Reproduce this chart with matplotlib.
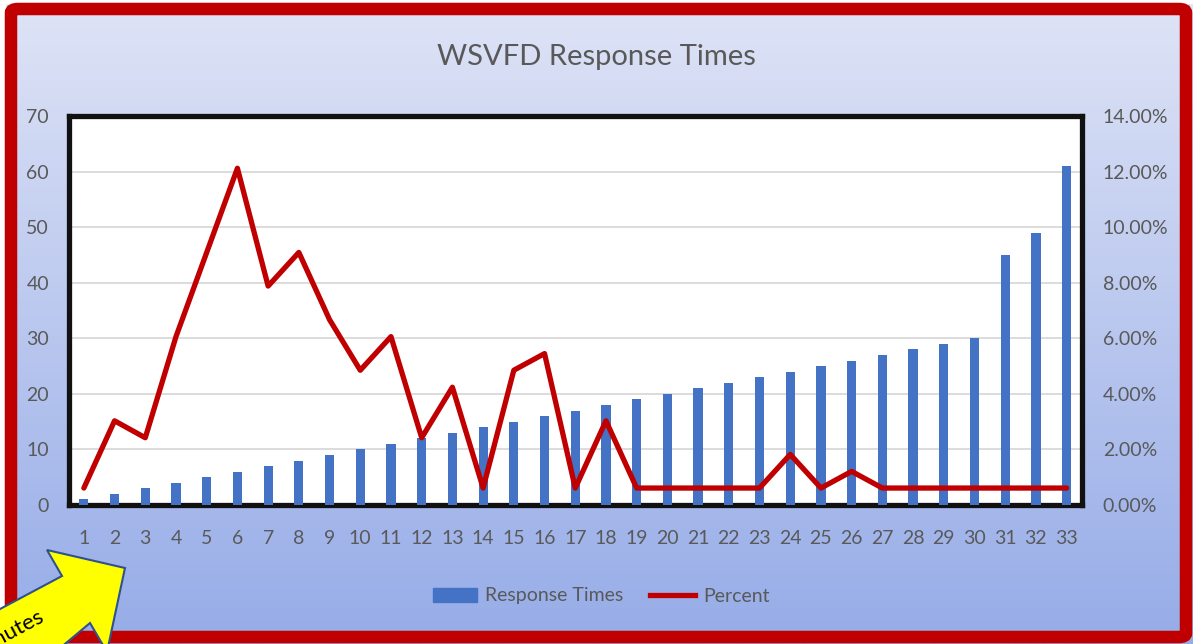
import matplotlib.pyplot as plt
import numpy as np
from matplotlib.patches import FancyBboxPatch, Polygon, Rectangle
from matplotlib.lines import Line2D

plt.rcParams['font.family'] = ['Lato', 'DejaVu Sans']

# data
minutes = list(range(1, 34))
response_times = [1, 2, 3, 4, 5, 6, 7, 8, 9, 10, 11, 12, 13, 14, 15, 16, 17,
                  18, 19, 20, 21, 22, 23, 24, 25, 26, 27, 28, 29, 30, 45, 49, 61]
percent = [0.61, 3.03, 2.42, 6.06, 9.09, 12.12, 7.88, 9.09, 6.67, 4.85, 6.06,
           2.42, 4.24, 0.61, 4.85, 5.45, 0.61, 3.03, 0.61, 0.61, 0.61, 0.61,
           0.61, 1.82, 0.61, 1.21, 0.61, 0.61, 0.61, 0.61, 0.61, 0.61, 0.61]
left_ticks = list(range(0, 80, 10))
right_ticks = [0, 2, 4, 6, 8, 10, 12, 14]

W, H = 1193, 644
grey = '#595959'
fig = plt.figure(figsize=(W / 100, H / 100), dpi=100, facecolor='white')


def px(x, y):
    # pixel (from top-left) -> figure fraction
    return x / W, 1 - y / H


# gradient background
bg = fig.add_axes([0, 0, 1, 1])
bg.axis('off')
top = np.array([223, 228, 246]) / 255
bot = np.array([150, 172, 232]) / 255
t = np.linspace(0, 1, 256)[:, None]
grad = top * (1 - t)[..., None] + bot * t[..., None]
grad = np.repeat(grad, 2, axis=1)
bg.imshow(grad, aspect='auto', extent=[0, 1, 0, 1], transform=bg.transAxes)
bg.add_patch(Rectangle((0, 0), 5 / W, 1, color='white', transform=bg.transAxes))
bg.add_patch(Rectangle((0, 1 - 3 / H), 1, 3 / H, color='white', transform=bg.transAxes))
bg.set_xlim(0, 1)
bg.set_ylim(0, 1)

# red outer frame
x0, y0 = px(11, 637)
x1, y1 = px(1186, 9)
fig.patches.append(FancyBboxPatch((x0, y0), x1 - x0, y1 - y0,
                                  boxstyle='round,pad=0,rounding_size=0.006',
                                  transform=fig.transFigure, fc='none',
                                  ec='#c00000', lw=9, zorder=5))

fig.text(0.5, px(0, 57)[1], 'WSVFD Response Times', ha='center', va='center',
         fontsize=21, color=grey)

# main plot
l, b = px(68.5, 505)
r, tp = px(1082, 116)
ax = fig.add_axes([l, b, r - l, tp - b])
ax.set_facecolor('white')
ax.bar(minutes, response_times, width=0.3, color='#4472c4', zorder=3)
ax.set_xlim(0.5, 33.5)
ax.set_ylim(0, 70)
ax.set_yticks(left_ticks)
ax.set_xticks(minutes)
ax.yaxis.grid(True, color='#d9d9d9', lw=1.3, zorder=0)
ax.set_axisbelow(True)
ax.tick_params(length=0, labelsize=14, labelcolor=grey)
ax.tick_params(axis='y', pad=14)
ax.tick_params(axis='x', pad=18)
for s in ax.spines.values():
    s.set_linewidth(3.8)
    s.set_color('#111111')

ax2 = ax.twinx()
ax2.plot(minutes, percent, color='#c00000', lw=3.8, solid_joinstyle='round',
         solid_capstyle='round', zorder=4)
ax2.set_ylim(0, 14)
ax2.set_yticks(right_ticks)
ax2.set_yticklabels(['{:.2f}%'.format(v) for v in right_ticks])
ax2.tick_params(length=0, labelsize=14, labelcolor=grey, pad=15)
for s in ax2.spines.values():
    s.set_visible(False)

handles = [Rectangle((0, 0), 1, 1, color='#4472c4'),
           Line2D([0], [0], color='#c00000', lw=3.8)]
fig.legend(handles, ['Response Times', 'Percent'], loc='center',
           bbox_to_anchor=px(601, 596), ncol=2, frameon=False, fontsize=14,
           handlelength=2.3, handleheight=0.75, columnspacing=1.4,
           labelcolor=grey, handletextpad=0.4)

# yellow call-out arrow at bottom-left
arrow_px = [(125, 568), (47, 550), (62, 576), (-60, 641), (-20, 715),
            (90, 623), (107, 652)]
fig.patches.append(Polygon([px(x, y) for x, y in arrow_px], closed=True,
                           transform=fig.transFigure, fc='#ffff00',
                           ec='#2f528f', lw=1.5, zorder=6))
tx, ty = px(45, 620)
fig.text(tx, ty, 'Minutes', rotation=28, rotation_mode='anchor', ha='right',
         va='baseline', fontsize=16, color='black', zorder=7)

fig.savefig('out.png', dpi=100)
